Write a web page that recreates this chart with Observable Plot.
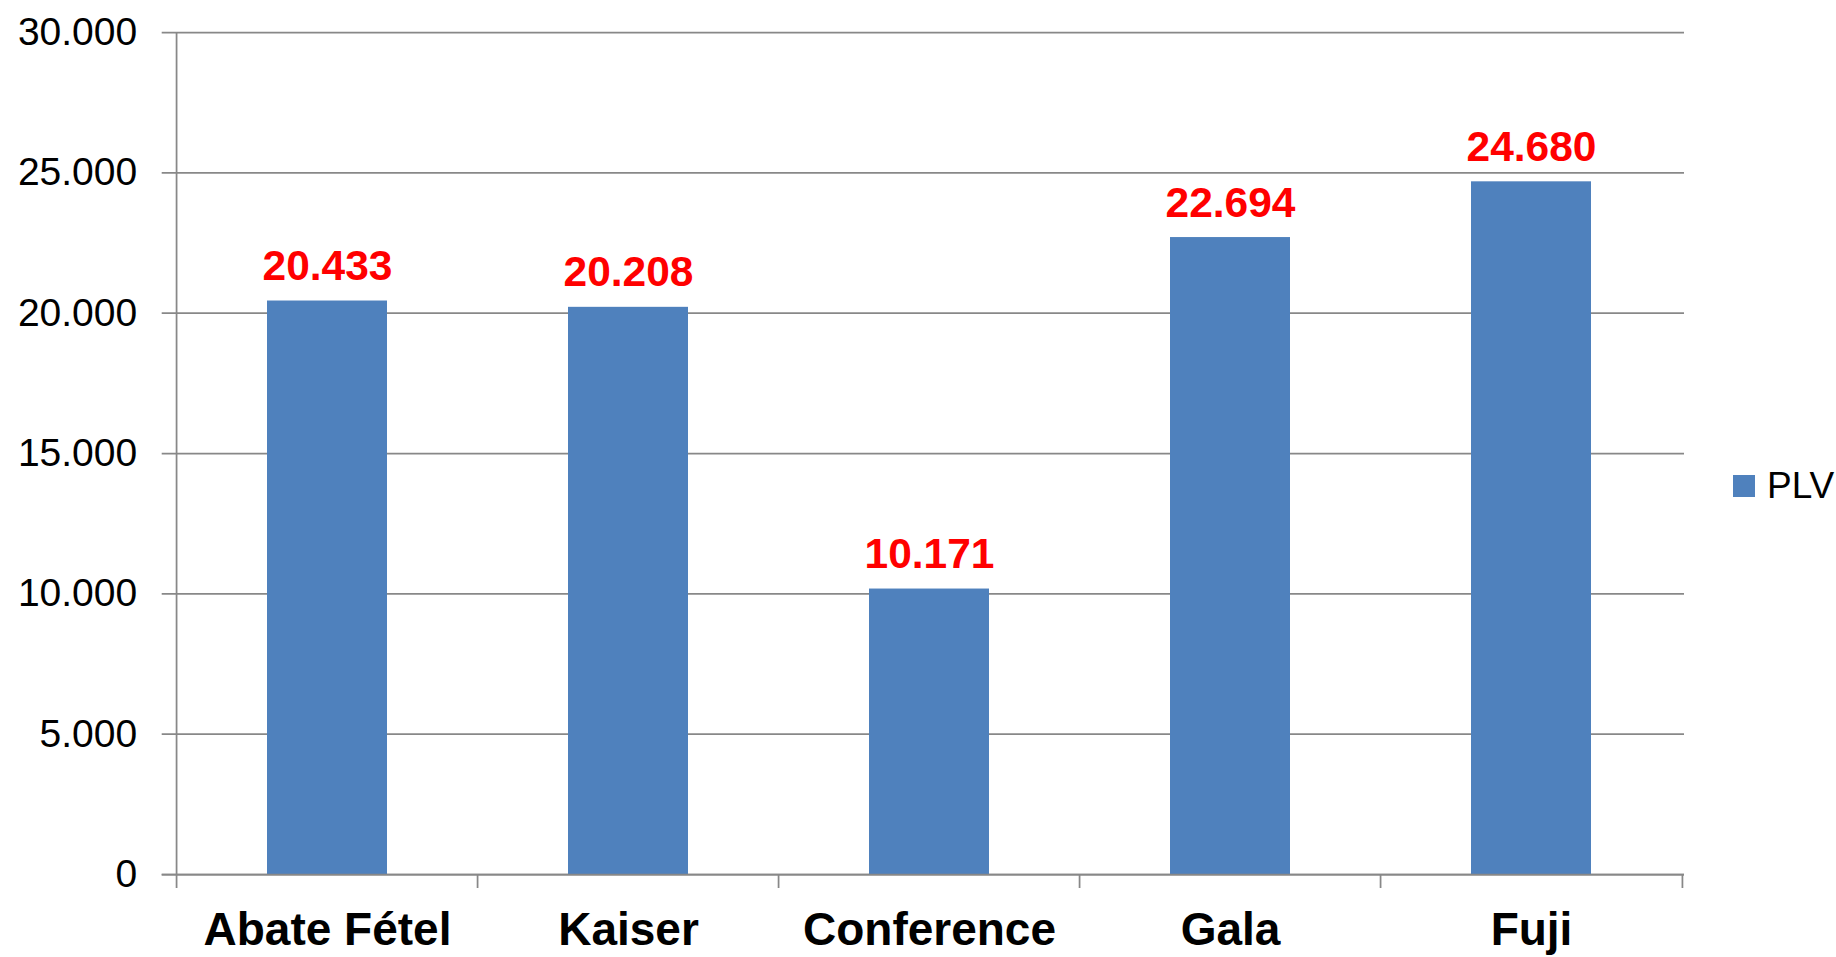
<!DOCTYPE html>
<html>
<head>
<meta charset="utf-8">
<script src="https://cdn.jsdelivr.net/npm/d3@7"></script>
<script src="https://cdn.jsdelivr.net/npm/@observablehq/plot@0.6"></script>
<style>
  html, body { margin: 0; padding: 0; background: #fff; }
  #wrap { position: relative; width: 1836px; height: 957px; font-family: "Liberation Sans", Arial, sans-serif; }
  #legend { position: absolute; left: 1733px; top: 466px; display: flex; align-items: center; }
  #legend .sw { width: 22px; height: 22px; background: #4F81BD; margin-right: 12px; }
  #legend .lb { font-size: 37px; color: #000; line-height: 40px; }
</style>
</head>
<body>
<div id="wrap"></div>
<script>
// ---- data ----
const categories = ["Abate Fétel", "Kaiser", "Conference", "Gala", "Fuji"];
const values = [20433, 20208, 10171, 22694, 24680];
const yTicks = [0, 5000, 10000, 15000, 20000, 25000, 30000];
const seriesName = "PLV";

const data = categories.map((c, i) => ({cat: c, v: values[i]}));
const fmt = d3.formatLocale({decimal: ",", thousands: ".", grouping: [3], currency: ["€", ""]}).format(",d");

const W = 1836, H = 957;
const mL = 174.7, mR = 152, mT = 32, mB = 83;
const plotH = H - mT - mB;
const step = (W - mL - mR) / categories.length;
const gray = "#888888";

const chart = Plot.plot({
  width: W,
  height: H,
  marginLeft: mL,
  marginRight: mR,
  marginTop: mT,
  marginBottom: mB,
  style: {fontFamily: "Liberation Sans, Arial, sans-serif", background: "#fff", color: "#000"},
  x: {type: "band", domain: categories, paddingInner: 0.6, paddingOuter: 0.3, axis: null},
  y: {domain: [0, 30000], axis: null},
  marks: [
    Plot.ruleY(yTicks, {stroke: gray, strokeWidth: 1.75, insetLeft: -13}),
    Plot.axisY({ticks: yTicks, tickFormat: fmt, tickSize: 0, tickPadding: 38, fontSize: 39, fill: "#000", label: null}),
    Plot.barY(data, {x: "cat", y: "v", fill: "#4F81BD"}),
    // vertical value axis line (full height, extending as the first category tick)
    Plot.ruleX([categories[0]], {x: d => d, dx: -step / 2, stroke: gray, strokeWidth: 1.75, insetTop: 0, insetBottom: -14}),
    // category boundary ticks below the baseline
    Plot.ruleX(categories.slice(1), {x: d => d, dx: -step / 2, stroke: gray, strokeWidth: 1.75, insetTop: plotH, insetBottom: -14}),
    Plot.ruleX([categories[categories.length - 1]], {x: d => d, dx: step / 2, stroke: gray, strokeWidth: 1.75, insetTop: plotH, insetBottom: -14}),
    Plot.ruleY([0], {stroke: gray, strokeWidth: 1.75, insetLeft: -13}),
    Plot.text(data, {x: "cat", y: "v", text: d => fmt(d.v), dy: -21, lineAnchor: "bottom", fill: "#FF0000", fontWeight: "bold", fontSize: 42.5}),
    Plot.text(categories, {x: d => d, frameAnchor: "bottom", dy: 70.5, lineAnchor: "bottom", text: d => d, fill: "#000", fontWeight: "bold", fontSize: 46})
  ]
});

const wrap = document.getElementById("wrap");
wrap.appendChild(chart);
const leg = document.createElement("div");
leg.id = "legend";
leg.innerHTML = `<div class="sw"></div><div class="lb">${seriesName}</div>`;
wrap.appendChild(leg);
</script>
</body>
</html>
